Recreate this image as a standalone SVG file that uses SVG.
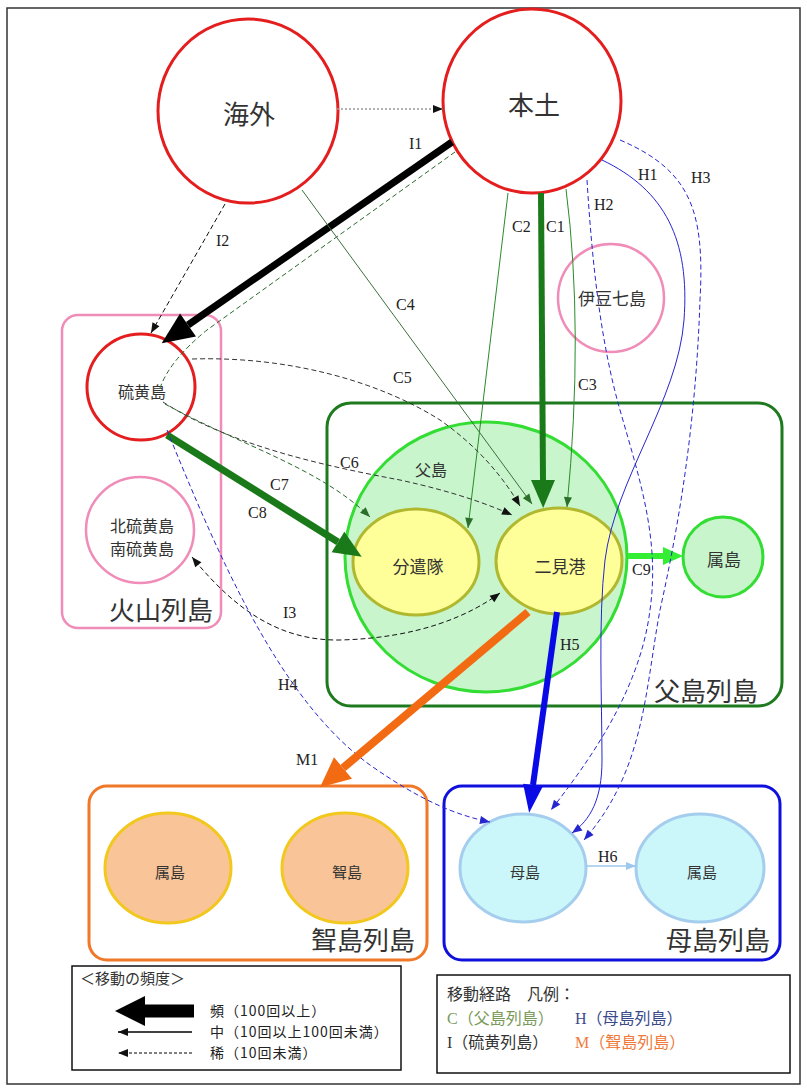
<svg xmlns="http://www.w3.org/2000/svg" width="807" height="1091" viewBox="0 0 807 1091">
<style>
.jp{font-family:"Noto Sans CJK JP","Noto Sans",sans-serif;fill:#333}
.lb{font-family:"Liberation Serif",serif;font-size:16px;fill:#222}
.red{fill:#fff;stroke:#e41e1e;stroke-width:3}
.pink{fill:#fff;stroke:#f08cb8;stroke-width:2.5}
.yel{fill:#ffff99;stroke:#b0b830;stroke-width:3}
.org{fill:#f8c498;stroke:#f2c81e;stroke-width:3}
.cyan{fill:#ccf7fa;stroke:#a4cdee;stroke-width:3}
.dash{fill:none;stroke-dasharray:5,3}
.lg{font-family:"Noto Sans CJK JP","Noto Sans",sans-serif;font-size:14px;letter-spacing:1px;fill:#222}
</style>
<defs>
<marker id="sk" markerUnits="userSpaceOnUse" markerWidth="10" markerHeight="8" refX="10" refY="4" orient="auto-start-reverse" overflow="visible"><path d="M0,0 L10,4 L0,8 z" fill="#111"/></marker>
<marker id="sg" markerUnits="userSpaceOnUse" markerWidth="10" markerHeight="8" refX="10" refY="4" orient="auto" overflow="visible"><path d="M0,0 L10,4 L0,8 z" fill="#2a6e2a"/></marker>
<marker id="sb" markerUnits="userSpaceOnUse" markerWidth="10" markerHeight="8" refX="10" refY="4" orient="auto" overflow="visible"><path d="M0,0 L10,4 L0,8 z" fill="#2626d0"/></marker>
<marker id="slb" markerUnits="userSpaceOnUse" markerWidth="10" markerHeight="8" refX="10" refY="4" orient="auto" overflow="visible"><path d="M0,0 L10,4 L0,8 z" fill="#9cc8ee"/></marker>
<marker id="bk" markerUnits="userSpaceOnUse" markerWidth="32" markerHeight="28" refX="0" refY="14" orient="auto" overflow="visible"><path d="M0,0 L32,14 L0,28 z" fill="#000"/></marker>
<marker id="bg" markerUnits="userSpaceOnUse" markerWidth="28" markerHeight="24" refX="0" refY="12" orient="auto" overflow="visible"><path d="M0,0 L28,12 L0,24 z" fill="#1a7a1a"/></marker>
<marker id="bb" markerUnits="userSpaceOnUse" markerWidth="28" markerHeight="20" refX="0" refY="10" orient="auto" overflow="visible"><path d="M0,0 L28,10 L0,20 z" fill="#0a0ae6"/></marker>
<marker id="bo" markerUnits="userSpaceOnUse" markerWidth="30" markerHeight="28" refX="0" refY="14" orient="auto" overflow="visible"><path d="M0,0 L30,14 L0,28 z" fill="#f26a12"/></marker>
<marker id="blg" markerUnits="userSpaceOnUse" markerWidth="20" markerHeight="18" refX="0" refY="9" orient="auto" overflow="visible"><path d="M0,0 L20,9 L0,18 z" fill="#33ee33"/></marker>
<marker id="leg" markerUnits="userSpaceOnUse" markerWidth="30" markerHeight="30" refX="0" refY="15" orient="auto" overflow="visible"><path d="M0,0 L30,15 L0,30 z" fill="#000"/></marker>
</defs>

<rect x="7" y="8" width="793" height="1076" fill="#fff" stroke="#333" stroke-width="1.5"/>

<g id="kazan">
<rect x="62" y="315" width="159" height="313" rx="16" fill="none" stroke="#f08cb8" stroke-width="2.5"/>
<text class="jp" x="213" y="620" font-size="26" text-anchor="end">火山列島</text>
</g>
<g id="chichi-retto">
<rect x="327" y="403" width="455" height="303" rx="24" fill="none" stroke="#1e7a1e" stroke-width="3"/>
<text class="jp" x="758" y="701" font-size="26" text-anchor="end">父島列島</text>
</g>
<g id="muko-retto">
<rect x="89" y="786" width="338" height="174" rx="18" fill="none" stroke="#f07828" stroke-width="3"/>
<text class="jp" x="415" y="950" font-size="26" text-anchor="end">聟島列島</text>
</g>
<g id="haha-retto">
<rect x="444" y="786" width="336" height="174" rx="18" fill="none" stroke="#1010dd" stroke-width="3"/>
<text class="jp" x="770" y="950" font-size="26" text-anchor="end">母島列島</text>
</g>

<g id="kaigai"><ellipse class="red" cx="248" cy="111" rx="90" ry="92"/><text class="jp" x="249" y="124" font-size="26" text-anchor="middle">海外</text></g>
<g id="hondo"><ellipse class="red" cx="532" cy="101" rx="89" ry="92"/><text class="jp" x="534" y="115" font-size="26" text-anchor="middle">本土</text></g>
<g id="izu"><ellipse class="pink" cx="611" cy="298" rx="53" ry="54"/><text class="jp" x="612" y="305" font-size="17" text-anchor="middle">伊豆七島</text></g>
<g id="iwoto"><ellipse class="red" cx="141" cy="387" rx="54" ry="53"/><text class="jp" x="142" y="398" font-size="16" text-anchor="middle">硫黄島</text></g>
<g id="kitaminami"><ellipse class="pink" cx="140" cy="530" rx="54" ry="53"/><text class="jp" x="142" y="532" font-size="16" text-anchor="middle">北硫黄島</text><text class="jp" x="142" y="555" font-size="16" text-anchor="middle">南硫黄島</text></g>
<g id="chichijima"><ellipse cx="486" cy="557" rx="141" ry="135" fill="#c8f5cc" stroke="#33dd33" stroke-width="3"/><text class="jp" x="431" y="476" font-size="16" text-anchor="middle">父島</text></g>
<g id="bunkentai"><ellipse class="yel" cx="416" cy="562" rx="63" ry="53"/><text class="jp" x="418" y="573" font-size="17" text-anchor="middle">分遣隊</text></g>
<g id="futami"><ellipse class="yel" cx="559" cy="561" rx="63" ry="53"/><text class="jp" x="560" y="573" font-size="17" text-anchor="middle">二見港</text></g>
<g id="chichi-zokuto"><ellipse cx="723" cy="557" rx="40" ry="40" fill="#c8f5cc" stroke="#33dd33" stroke-width="3"/><text class="jp" x="724" y="566" font-size="17" text-anchor="middle">属島</text></g>
<g id="muko-zokuto"><ellipse class="org" cx="168" cy="868" rx="63" ry="55"/><text class="jp" x="170" y="878" font-size="15" text-anchor="middle">属島</text></g>
<g id="mukojima"><ellipse class="org" cx="345" cy="868" rx="63" ry="55"/><text class="jp" x="347" y="878" font-size="15" text-anchor="middle">聟島</text></g>
<g id="hahajima"><ellipse class="cyan" cx="523" cy="868" rx="63" ry="54"/><text class="jp" x="525" y="878" font-size="15" text-anchor="middle">母島</text></g>
<g id="haha-zokuto"><ellipse class="cyan" cx="700" cy="868" rx="64" ry="54"/><text class="jp" x="702" y="878" font-size="15" text-anchor="middle">属島</text></g>

<g id="connectors">
<path d="M337,109 L443,109" fill="none" stroke="#9a9a9a" stroke-width="1.5" stroke-dasharray="2,2" marker-end="url(#sk)"/>
<path d="M455,152 L207,330 Q170,360 160,388" class="dash" stroke="#2a6a2a" stroke-width="1"/>
<path d="M452,142 L188,325" stroke="#000" stroke-width="7" fill="none" marker-end="url(#bk)"/>
<path d="M225,204 L151,333" class="dash" stroke="#111" stroke-width="1" marker-end="url(#sk)"/>
<path d="M302,190 L532,504" fill="none" stroke="#3e6e3e" stroke-width="1" marker-end="url(#sg)"/>
<path d="M508,193 L468,528" fill="none" stroke="#2a8a2a" stroke-width="1" marker-end="url(#sg)"/>
<path d="M566,189 Q584,330 567,507" fill="none" stroke="#2a8a2a" stroke-width="1" marker-end="url(#sg)"/>
<path d="M541,193 L543,480" fill="none" stroke="#1a7a1a" stroke-width="6" marker-end="url(#bg)"/>
<path d="M192,359 C290,356 380,382 440,420 C480,448 505,480 520,506" class="dash" stroke="#333" stroke-width="1" marker-end="url(#sk)"/>
<path d="M163,402 C230,445 320,465 400,480 C455,492 490,505 512,515" class="dash" stroke="#333" stroke-width="1" marker-end="url(#sk)"/>
<path d="M165,404 C240,445 320,468 370,517" class="dash" stroke="#2a6a2a" stroke-width="1" marker-end="url(#sg)"/>
<path d="M167,435 L338,542" fill="none" stroke="#1a7a1a" stroke-width="7" marker-end="url(#bg)"/>
<path d="M500,593 C470,615 420,638 340,640 C280,641 235,610 192,557" class="dash" stroke="#111" stroke-width="1" marker-start="url(#sk)" marker-end="url(#sk)"/>
<path d="M628,556 L663,556" fill="none" stroke="#33ee33" stroke-width="6" marker-end="url(#blg)"/>
<path d="M167,430 C220,560 280,700 370,765 C420,800 455,815 490,822" class="dash" stroke="#2626d0" stroke-width="1" marker-end="url(#sb)"/>
<path d="M528,612 L343,768" fill="none" stroke="#f26a12" stroke-width="8" marker-end="url(#bo)"/>
<path d="M557,612 L533,785" fill="none" stroke="#0a0ae6" stroke-width="6" marker-end="url(#bb)"/>
<path d="M602,160 C665,190 690,240 684,320 C678,400 615,480 605,560 C598,620 602,700 602,760 C602,800 590,820 572,833" fill="none" stroke="#2626d0" stroke-width="1" marker-end="url(#sb)"/>
<path d="M587,180 C592,260 600,340 620,410 C640,480 660,540 650,610 C640,690 590,760 551,810" class="dash" stroke="#2626d0" stroke-width="1" marker-end="url(#sb)"/>
<path d="M620,140 C690,170 705,210 700,300 C696,420 680,520 660,610 C645,690 645,770 584,840" class="dash" stroke="#2626d0" stroke-width="1" marker-end="url(#sb)"/>
<path d="M586,866 L636,866" fill="none" stroke="#9cc8ee" stroke-width="1.5" marker-end="url(#slb)"/>
<text class="lb" x="409" y="149">I1</text>
<text class="lb" x="216" y="246">I2</text>
<text class="lb" x="396" y="310">C4</text>
<text class="lb" x="512" y="232">C2</text>
<text class="lb" x="546" y="232">C1</text>
<text class="lb" x="594" y="210">H2</text>
<text class="lb" x="638" y="180">H1</text>
<text class="lb" x="691" y="183">H3</text>
<text class="lb" x="393" y="383">C5</text>
<text class="lb" x="578" y="390">C3</text>
<text class="lb" x="340" y="468">C6</text>
<text class="lb" x="270" y="490">C7</text>
<text class="lb" x="248" y="518">C8</text>
<text class="lb" x="283" y="618">I3</text>
<text class="lb" x="632" y="575">C9</text>
<text class="lb" x="560" y="650">H5</text>
<text class="lb" x="278" y="690">H4</text>
<text class="lb" x="296" y="765">M1</text>
<text class="lb" x="598" y="862">H6</text>
</g>

<g id="legend-frequency">
<rect x="72" y="966" width="329" height="104" fill="#fff" stroke="#111" stroke-width="1.5"/>
<text class="jp" x="80" y="984" font-size="15" fill="#222">＜移動の頻度＞</text>
<path d="M194,1011 L145,1011" stroke="#000" stroke-width="13" fill="none" marker-end="url(#leg)"/>
<path d="M192,1032 L118,1032" stroke="#000" stroke-width="1.5" fill="none" marker-end="url(#sk)"/>
<path d="M192,1053 L118,1053" stroke="#000" stroke-width="1" stroke-dasharray="3,2" fill="none" marker-end="url(#sk)"/>
<text class="lg" x="210" y="1016">頻（100回以上）</text>
<text class="lg" x="210" y="1037">中（10回以上100回未満）</text>
<text class="lg" x="210" y="1058">稀（10回未満）</text>
</g>
<g id="legend-routes">
<rect x="437" y="975" width="353" height="98" fill="#fff" stroke="#111" stroke-width="1.5"/>
<text class="jp" x="447" y="1000" font-size="16" fill="#555">移動経路　凡例：</text>
<text x="447" y="1024" font-size="16" style="font-family:'Liberation Serif','Noto Sans CJK JP',serif;fill:#7a9a5a">C（父島列島）</text>
<text x="575" y="1024" font-size="16" style="font-family:'Liberation Serif','Noto Sans CJK JP',serif;fill:#3a4a8a">H（母島列島）</text>
<text x="447" y="1048" font-size="16" style="font-family:'Liberation Serif','Noto Sans CJK JP',serif;fill:#333">I（硫黄列島）</text>
<text x="575" y="1048" font-size="16" style="font-family:'Liberation Serif','Noto Sans CJK JP',serif;fill:#f07a3a">M（聟島列島）</text>
</g>
</svg>
